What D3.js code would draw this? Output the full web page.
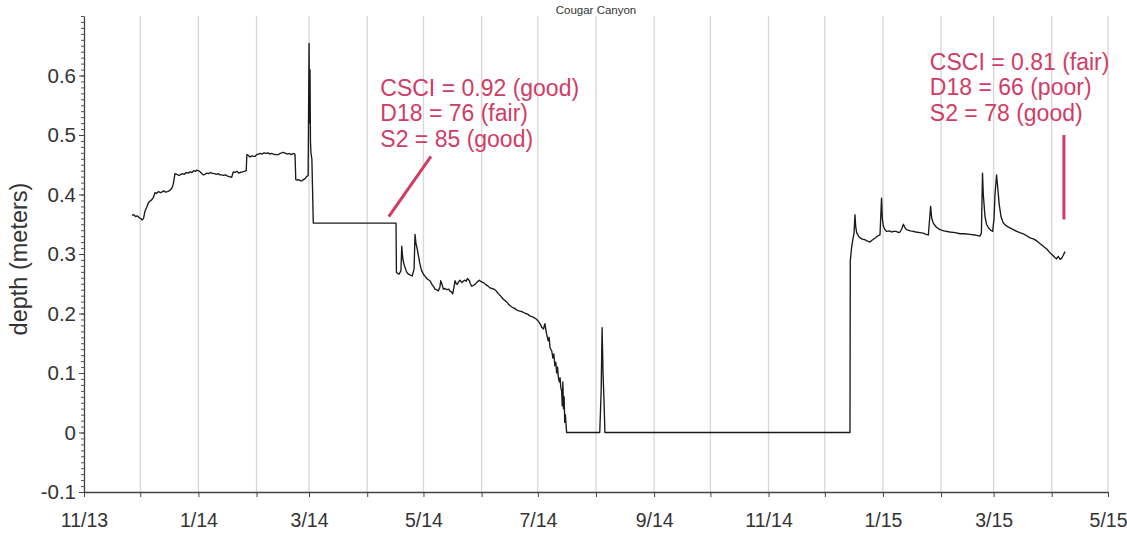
<!DOCTYPE html>
<html>
<head>
<meta charset="utf-8">
<script src="https://cdn.jsdelivr.net/npm/d3@7/dist/d3.min.js"></script>
<style>
  html, body { margin: 0; padding: 0; background: #fff; }
  svg { display: block; font-family: "Liberation Sans", Arial, sans-serif; }
</style>
</head>
<body>
<svg id="chart" width="1127" height="538"></svg>
<script>
// Stream depth logger record, Cougar Canyon (timestamp "YYYY-MM-DD HH", depth in meters)
const readings = [
  ["2013-11-26 14", 0.365], ["2013-11-27 12", 0.366], ["2013-11-28 12", 0.363], ["2013-11-29 12", 0.364],
  ["2013-11-30 12", 0.361], ["2013-12-01 12", 0.359], ["2013-12-02 00", 0.357], ["2013-12-02 18", 0.360],
  ["2013-12-03 12", 0.372], ["2013-12-04 12", 0.379], ["2013-12-05 08", 0.386], ["2013-12-06 06", 0.389],
  ["2013-12-07 02", 0.391], ["2013-12-08 00", 0.395], ["2013-12-08 20", 0.403], ["2013-12-09 18", 0.402],
  ["2013-12-10 18", 0.405], ["2013-12-11 18", 0.403], ["2013-12-12 10", 0.404], ["2013-12-13 12", 0.406],
  ["2013-12-14 12", 0.404], ["2013-12-15 12", 0.405], ["2013-12-16 20", 0.407], ["2013-12-17 18", 0.410],
  ["2013-12-18 14", 0.417], ["2013-12-19 12", 0.435], ["2013-12-20 12", 0.434], ["2013-12-21 12", 0.432],
  ["2013-12-22 06", 0.433], ["2013-12-23 12", 0.435], ["2013-12-24 12", 0.434], ["2013-12-25 12", 0.437],
  ["2013-12-26 14", 0.436], ["2013-12-27 12", 0.438], ["2013-12-28 12", 0.437], ["2013-12-29 12", 0.440],
  ["2013-12-30 12", 0.439], ["2013-12-31 02", 0.441], ["2014-01-01 18", 0.439], ["2014-01-02 12", 0.436],
  ["2014-01-03 14", 0.433], ["2014-01-04 12", 0.434], ["2014-01-05 12", 0.436], ["2014-01-06 12", 0.435],
  ["2014-01-07 12", 0.437], ["2014-01-08 02", 0.436], ["2014-01-09 12", 0.435], ["2014-01-10 12", 0.434],
  ["2014-01-11 12", 0.435], ["2014-01-12 12", 0.433], ["2014-01-13 10", 0.433], ["2014-01-14 12", 0.432],
  ["2014-01-15 12", 0.433], ["2014-01-16 12", 0.431], ["2014-01-17 12", 0.430], ["2014-01-18 18", 0.429],
  ["2014-01-19 14", 0.438], ["2014-01-20 12", 0.437], ["2014-01-21 12", 0.439], ["2014-01-22 12", 0.436],
  ["2014-01-23 06", 0.437], ["2014-01-24 12", 0.438], ["2014-01-25 12", 0.439], ["2014-01-26 12", 0.440],
  ["2014-01-26 20", 0.467], ["2014-01-27 12", 0.466], ["2014-01-28 12", 0.463], ["2014-01-29 12", 0.465],
  ["2014-01-30 12", 0.464], ["2014-01-31 06", 0.464], ["2014-02-01 00", 0.467], ["2014-02-02 00", 0.468],
  ["2014-02-03 00", 0.469], ["2014-02-04 00", 0.468], ["2014-02-05 00", 0.470], ["2014-02-06 00", 0.469],
  ["2014-02-07 06", 0.470], ["2014-02-08 00", 0.468], ["2014-02-09 00", 0.469], ["2014-02-10 00", 0.468],
  ["2014-02-11 00", 0.467], ["2014-02-12 14", 0.467], ["2014-02-13 12", 0.469], ["2014-02-14 12", 0.470],
  ["2014-02-15 06", 0.471], ["2014-02-16 12", 0.469], ["2014-02-17 12", 0.468], ["2014-02-18 12", 0.469],
  ["2014-02-19 12", 0.467], ["2014-02-20 12", 0.469], ["2014-02-21 12", 0.468], ["2014-02-21 22", 0.425],
  ["2014-02-22 18", 0.424], ["2014-02-23 12", 0.425], ["2014-02-24 12", 0.423], ["2014-02-25 00", 0.423],
  ["2014-02-26 00", 0.425], ["2014-02-27 00", 0.427], ["2014-02-27 16", 0.430], ["2014-02-28 12", 0.432],
  ["2014-03-01 00", 0.654], ["2014-03-01 06", 0.520], ["2014-03-01 12", 0.610], ["2014-03-01 18", 0.490],
  ["2014-03-02 00", 0.470], ["2014-03-02 12", 0.460], ["2014-03-03 06", 0.352], ["2014-04-16 09", 0.352],
  ["2014-04-16 14", 0.269], ["2014-04-17 12", 0.267], ["2014-04-18 00", 0.266], ["2014-04-19 00", 0.272],
  ["2014-04-19 10", 0.313], ["2014-04-20 00", 0.292], ["2014-04-20 14", 0.283], ["2014-04-22 00", 0.270],
  ["2014-04-23 00", 0.266], ["2014-04-25 00", 0.263], ["2014-04-26 00", 0.275], ["2014-04-26 12", 0.333],
  ["2014-04-27 00", 0.318], ["2014-04-27 17", 0.308], ["2014-04-29 00", 0.285], ["2014-04-30 00", 0.272],
  ["2014-05-01 00", 0.266], ["2014-05-02 00", 0.262], ["2014-05-03 00", 0.258], ["2014-05-04 12", 0.255],
  ["2014-05-05 12", 0.249], ["2014-05-06 12", 0.245], ["2014-05-07 02", 0.241], ["2014-05-08 00", 0.240],
  ["2014-05-08 22", 0.238], ["2014-05-09 18", 0.244], ["2014-05-10 05", 0.255], ["2014-05-11 00", 0.248],
  ["2014-05-11 14", 0.241], ["2014-05-12 12", 0.242], ["2014-05-13 12", 0.240], ["2014-05-14 12", 0.241],
  ["2014-05-15 02", 0.238], ["2014-05-16 00", 0.236], ["2014-05-16 14", 0.233], ["2014-05-17 06", 0.244],
  ["2014-05-17 20", 0.255], ["2014-05-18 12", 0.250], ["2014-05-19 00", 0.249], ["2014-05-19 16", 0.253],
  ["2014-05-20 12", 0.256], ["2014-05-21 12", 0.252], ["2014-05-22 12", 0.255], ["2014-05-23 02", 0.256],
  ["2014-05-23 18", 0.254], ["2014-05-24 10", 0.259], ["2014-05-25 12", 0.255], ["2014-05-26 00", 0.250],
  ["2014-05-26 16", 0.246], ["2014-05-27 12", 0.247], ["2014-05-28 12", 0.249], ["2014-05-29 10", 0.252],
  ["2014-05-30 00", 0.254], ["2014-05-30 20", 0.256], ["2014-05-31 12", 0.254], ["2014-06-01 22", 0.252],
  ["2014-06-02 18", 0.250], ["2014-06-03 12", 0.248], ["2014-06-04 12", 0.246], ["2014-06-05 12", 0.243],
  ["2014-06-06 12", 0.242], ["2014-06-07 12", 0.241], ["2014-06-08 12", 0.239], ["2014-06-09 00", 0.237],
  ["2014-06-10 00", 0.233], ["2014-06-11 00", 0.230], ["2014-06-12 14", 0.224], ["2014-06-13 12", 0.222],
  ["2014-06-14 12", 0.219], ["2014-06-15 12", 0.215], ["2014-06-16 06", 0.213], ["2014-06-17 12", 0.210],
  ["2014-06-18 12", 0.209], ["2014-06-19 16", 0.206], ["2014-06-20 12", 0.205], ["2014-06-21 12", 0.204],
  ["2014-06-22 12", 0.203], ["2014-06-23 06", 0.202], ["2014-06-24 12", 0.200], ["2014-06-25 12", 0.199],
  ["2014-06-26 18", 0.196], ["2014-06-27 12", 0.195], ["2014-06-28 12", 0.194], ["2014-06-29 12", 0.192],
  ["2014-06-30 10", 0.190], ["2014-07-01 12", 0.186], ["2014-07-02 12", 0.181], ["2014-07-03 00", 0.177],
  ["2014-07-04 00", 0.174], ["2014-07-04 18", 0.183], ["2014-07-05 12", 0.168], ["2014-07-06 12", 0.154],
  ["2014-07-07 00", 0.160], ["2014-07-07 12", 0.142], ["2014-07-08 10", 0.137], ["2014-07-09 00", 0.125],
  ["2014-07-09 12", 0.132], ["2014-07-10 02", 0.112], ["2014-07-10 14", 0.118], ["2014-07-11 00", 0.100],
  ["2014-07-11 12", 0.110], ["2014-07-11 22", 0.093], ["2014-07-12 10", 0.085], ["2014-07-12 20", 0.092],
  ["2014-07-13 06", 0.075], ["2014-07-13 16", 0.070], ["2014-07-14 00", 0.045], ["2014-07-14 08", 0.085],
  ["2014-07-14 16", 0.040], ["2014-07-15 00", 0.060], ["2014-07-15 08", 0.017], ["2014-07-15 16", 0.030],
  ["2014-07-16 08", 0.000], ["2014-08-03 00", 0.000], ["2014-08-03 18", 0.070], ["2014-08-04 06", 0.176],
  ["2014-08-04 18", 0.100], ["2014-08-05 06", 0.055], ["2014-08-05 18", 0.000], ["2014-12-14 10", 0.000],
  ["2014-12-14 14", 0.288], ["2014-12-15 06", 0.310], ["2014-12-15 20", 0.322], ["2014-12-16 14", 0.335],
  ["2014-12-17 02", 0.366], ["2014-12-17 12", 0.345], ["2014-12-18 00", 0.336], ["2014-12-19 00", 0.330],
  ["2014-12-19 20", 0.327], ["2014-12-21 00", 0.325], ["2014-12-22 10", 0.324], ["2014-12-23 12", 0.322],
  ["2014-12-25 02", 0.320], ["2014-12-26 12", 0.324], ["2014-12-27 20", 0.327], ["2014-12-29 00", 0.330],
  ["2014-12-30 10", 0.332], ["2014-12-31 06", 0.394], ["2014-12-31 16", 0.360], ["2015-01-01 05", 0.347],
  ["2015-01-02 00", 0.341], ["2015-01-03 00", 0.338], ["2015-01-04 12", 0.339], ["2015-01-05 12", 0.337],
  ["2015-01-06 12", 0.338], ["2015-01-08 00", 0.338], ["2015-01-09 12", 0.336], ["2015-01-10 02", 0.337],
  ["2015-01-11 00", 0.342], ["2015-01-11 22", 0.350], ["2015-01-12 18", 0.344], ["2015-01-13 16", 0.341],
  ["2015-01-15 12", 0.339], ["2015-01-17 05", 0.338], ["2015-01-18 12", 0.337], ["2015-01-20 16", 0.336],
  ["2015-01-22 12", 0.335], ["2015-01-24 00", 0.333], ["2015-01-25 05", 0.332], ["2015-01-26 10", 0.380],
  ["2015-01-27 00", 0.360], ["2015-01-27 20", 0.352], ["2015-01-29 12", 0.345], ["2015-01-31 10", 0.341],
  ["2015-02-02 12", 0.339], ["2015-02-05 16", 0.337], ["2015-02-08 12", 0.336], ["2015-02-11 02", 0.334],
  ["2015-02-13 12", 0.334], ["2015-02-16 10", 0.333], ["2015-02-19 00", 0.332], ["2015-02-21 16", 0.330],
  ["2015-02-22 12", 0.335], ["2015-02-23 02", 0.436], ["2015-02-23 12", 0.400], ["2015-02-24 10", 0.363],
  ["2015-02-25 06", 0.350], ["2015-02-26 05", 0.344], ["2015-02-27 12", 0.340], ["2015-02-28 12", 0.338],
  ["2015-03-01 06", 0.360], ["2015-03-01 18", 0.400], ["2015-03-02 14", 0.433], ["2015-03-03 06", 0.410],
  ["2015-03-04 00", 0.383], ["2015-03-05 00", 0.362], ["2015-03-06 05", 0.352], ["2015-03-07 12", 0.348],
  ["2015-03-08 12", 0.346], ["2015-03-09 16", 0.344], ["2015-03-11 12", 0.341], ["2015-03-13 08", 0.338],
  ["2015-03-15 00", 0.336], ["2015-03-16 20", 0.334], ["2015-03-18 12", 0.331], ["2015-03-20 10", 0.327],
  ["2015-03-22 12", 0.325], ["2015-03-24 00", 0.322], ["2015-03-25 12", 0.318], ["2015-03-27 12", 0.313],
  ["2015-03-29 12", 0.308], ["2015-03-31 02", 0.302], ["2015-04-01 12", 0.298], ["2015-04-02 16", 0.294],
  ["2015-04-03 12", 0.292], ["2015-04-04 12", 0.296], ["2015-04-05 12", 0.291], ["2015-04-06 07", 0.293],
  ["2015-04-07 00", 0.297], ["2015-04-08 02", 0.304]
];

const chartTitle = "Cougar Canyon";
const yTitle = "depth (meters)";
const xDomain = ["2013-11-01", "2015-05-01"];
const yDomain = [-0.1, 0.7];
const yTickValues = [-0.1, 0, 0.1, 0.2, 0.3, 0.4, 0.5, 0.6];
const xTickLabels = ["11/13", "1/14", "3/14", "5/14", "7/14", "9/14", "11/14", "1/15", "3/15", "5/15"];

// Bioassessment scores at the two sampling visits
const visitNotes = [
  { lines: ["CSCI = 0.92 (good)", "D18 = 76 (fair)", "S2 = 85 (good)"],
    textAt: ["2014-04-08 00", 0.566],
    leader: [["2014-04-12 12", 0.363], ["2014-05-05 00", 0.464]] },
  { lines: ["CSCI = 0.81 (fair)", "D18 = 66 (poor)", "S2 = 78 (good)"],
    textAt: ["2015-01-26 00", 0.610],
    leader: [["2015-04-07 12", 0.358], ["2015-04-07 12", 0.500]] }
];

const parseHour = d3.utcParse("%Y-%m-%d %H");
const parseDay = d3.utcParse("%Y-%m-%d");
const parseT = s => parseHour(s) || parseDay(s);
const parseTickLabel = d3.utcParse("%m/%y");

const margin = { left: 84, right: 19, top: 16, bottom: 46 };
const W = 1127, H = 538;

const svg = d3.select("#chart");

const x = d3.scaleUtc()
  .domain(xDomain.map(parseT))
  .range([margin.left, W - margin.right]);

const y = d3.scaleLinear()
  .domain(yDomain)
  .range([H - margin.bottom, margin.top]);

const monthTicks = d3.utcMonth.range(x.domain()[0], d3.utcDay.offset(x.domain()[1], 1));
const labelledTicks = xTickLabels.map(parseTickLabel);
const labelFor = new Map(labelledTicks.map((d, i) => [+d, xTickLabels[i]]));

// vertical monthly gridlines
svg.append("g")
  .selectAll("line")
  .data(monthTicks.filter(d => +d !== +x.domain()[0]))
  .join("line")
  .attr("x1", d => x(d)).attr("x2", d => x(d))
  .attr("y1", y(yDomain[1])).attr("y2", y(yDomain[0]))
  .attr("stroke", "#d9d9d9")
  .attr("stroke-width", 1.4);

// depth trace
const line = d3.line()
  .x(d => x(parseT(d[0])))
  .y(d => y(d[1]));

svg.append("path")
  .datum(readings)
  .attr("d", line)
  .attr("fill", "none")
  .attr("stroke", "#1a1a1a")
  .attr("stroke-width", 1.35)
  .attr("stroke-linejoin", "round");

// y axis: minor ticks every 0.01, then labelled ticks
const minorY = d3.range(-10, 71).map(i => i / 100);
svg.append("g")
  .attr("transform", `translate(${margin.left},0)`)
  .call(d3.axisLeft(y).tickValues(minorY).tickSize(3).tickSizeOuter(0).tickFormat(""))
  .call(g => g.selectAll("line").attr("stroke", "#555"))
  .call(g => g.select(".domain").attr("stroke", "#444").attr("stroke-width", 1.3));

svg.append("g")
  .attr("transform", `translate(${margin.left},0)`)
  .call(d3.axisLeft(y).tickValues(yTickValues).tickSize(5).tickPadding(3)
    .tickFormat(d => String(+d.toFixed(1))))
  .call(g => g.select(".domain").remove())
  .call(g => g.selectAll("line").attr("stroke", "#444"))
  .call(g => g.selectAll("text")
    .attr("font-size", 20.5)
    .attr("font-family", "Liberation Sans, Arial, sans-serif")
    .attr("fill", "#333"));

// x axis: month ticks, every other month labelled
svg.append("g")
  .attr("transform", `translate(0,${y(yDomain[0])})`)
  .call(d3.axisBottom(x).tickValues(monthTicks).tickSize(5).tickPadding(16).tickSizeOuter(0)
    .tickFormat(d => labelFor.get(+d) || ""))
  .call(g => g.select(".domain").attr("stroke", "#444").attr("stroke-width", 1.3))
  .call(g => g.selectAll("line").attr("stroke", "#444"))
  .call(g => g.selectAll("text")
    .attr("font-size", 19.5)
    .attr("font-family", "Liberation Sans, Arial, sans-serif")
    .attr("fill", "#333"));

// titles
svg.append("text")
  .attr("x", (x.range()[0] + x.range()[1]) / 2)
  .attr("y", 14)
  .attr("text-anchor", "middle")
  .attr("font-size", 11.5)
  .attr("fill", "#333")
  .text(chartTitle);

svg.append("text")
  .attr("transform", `translate(27,259) rotate(-90)`)
  .attr("text-anchor", "middle")
  .attr("font-size", 23.5)
  .attr("fill", "#333")
  .text(yTitle);

// sampling-visit annotations
const noteColor = "#d13c66";
const notes = svg.append("g");
visitNotes.forEach(n => {
  notes.append("line")
    .attr("x1", x(parseT(n.leader[0][0]))).attr("y1", y(n.leader[0][1]))
    .attr("x2", x(parseT(n.leader[1][0]))).attr("y2", y(n.leader[1][1]))
    .attr("stroke", noteColor)
    .attr("stroke-width", 3);
  const t = notes.append("text")
    .attr("x", x(parseT(n.textAt[0])))
    .attr("y", y(n.textAt[1]))
    .attr("font-size", 23)
    .attr("fill", noteColor);
  n.lines.forEach((s, i) => {
    t.append("tspan")
      .attr("x", x(parseT(n.textAt[0])))
      .attr("dy", i === 0 ? 0 : 25.5)
      .text(s);
  });
});
</script>
</body>
</html>
